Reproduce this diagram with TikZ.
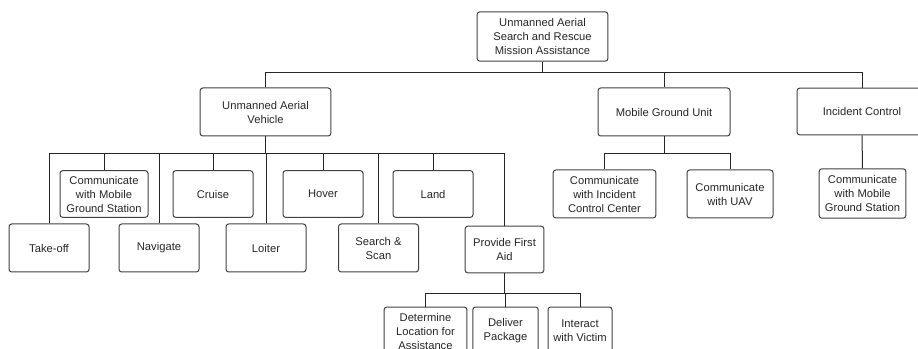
\documentclass[tikz,border=0pt]{standalone}
\usepackage{fontspec}
\setmainfont{Liberation Sans}
\newcommand{\mkbranch}[3]{\foreach \c in {#3} {\draw[conn] (#1.south) -- ++(0,#2) -| (\c.north);}}

\begin{document}
\begin{tikzpicture}[
    x=0.75pt, y=-0.75pt,
    box/.style={draw=black!75, line width=0.75pt, rounded corners=2pt, align=center,
      inner sep=1pt, minimum height=36pt,
      font=\fontsize{8.4}{10.5}\selectfont, text=black!85},
    conn/.style={draw=black!85, line width=0.75pt},
    ]
    \useasboundingbox (0,0) rectangle (918,349);
    % top levels
    \node[box, minimum width=98pt, minimum height=37pt] (root) at (542.5,36.5) {Unmanned Aerial\\Search and Rescue\\Mission Assistance};
    \node[box, minimum width=98pt] (uav) at (265.5,112) {Unmanned Aerial\\Vehicle};
    \node[box, minimum width=99pt] (mgu) at (664,112) {Mobile Ground Unit};
    \node[box, minimum width=97.5pt, minimum height=35pt] (ic) at (862,111.5) {Incident Control};
    % UAV functions
    \node[box, minimum width=66pt, minimum height=35pt] (cmgs) at (104,194) {Communicate\\with Mobile\\Ground Station};
    \node[box, minimum width=60pt, minimum height=35pt] (cruise) at (213,194) {Cruise};
    \node[box, minimum width=60pt, minimum height=35pt] (hover) at (323,194) {Hover};
    \node[box, minimum width=60pt, minimum height=35pt] (land) at (433,194) {Land};
    \node[box, minimum width=60pt] (takeoff) at (49,248) {Take-off};
    \node[box, minimum width=60pt] (navigate) at (159,248) {Navigate};
    \node[box, minimum width=60pt] (loiter) at (266,248) {Loiter};
    \node[box, minimum width=60pt] (search) at (378.5,248) {Search \&\\Scan};
    \node[box, minimum width=59pt, minimum height=35pt] (aid) at (504.5,249.5) {Provide First\\Aid};
    % first aid
    \node[box, minimum width=62pt] (locate) at (425.5,331) {Determine\\Location for\\Assistance};
    \node[box, minimum width=49pt] (deliver) at (505.5,331) {Deliver\\Package};
    \node[box, minimum width=48pt] (interact) at (580,331) {Interact\\with Victim};
    % ground unit and incident control
    \node[box, minimum width=77pt] (cicc) at (604.5,194) {Communicate\\with Incident\\Control Center};
    \node[box, minimum width=64.5pt] (cuav) at (730,194) {Communicate\\with UAV};
    \node[box, minimum width=65pt, minimum height=37pt] (icmgs) at (862.5,193.5) {Communicate\\with Mobile\\Ground Station};

    \mkbranch{root}{11}{uav,mgu,ic}
    \mkbranch{uav}{17}{takeoff,cmgs,navigate,cruise,loiter,hover,search,land,aid}
    \mkbranch{mgu}{17}{cicc,cuav}
    \draw[conn] (ic) -- (icmgs);
    \mkbranch{aid}{20}{locate,deliver,interact}
  \end{tikzpicture}
\end{document}
